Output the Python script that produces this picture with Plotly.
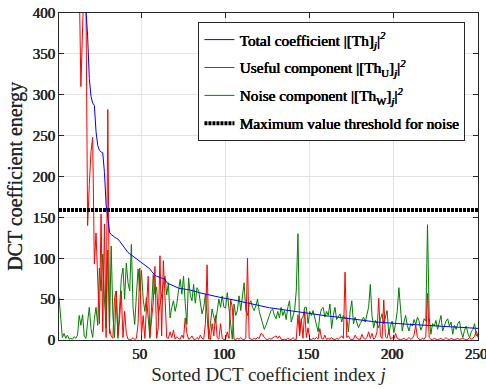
import plotly.graph_objects as go

# Sorted DCT coefficient index j = 1..250
total_energy = [
    2600, 1850, 1400, 1120, 950, 830, 740, 670, 615, 570,
    535, 505, 480, 460, 442, 426, 405, 372, 320, 298,
    290, 287, 255, 238, 232, 230, 229, 205, 165, 150,
    132, 129, 127, 126, 124.5, 123.5, 121, 118, 115, 112,
    109, 107, 105.5, 104, 103, 101, 99.5, 97.5, 96, 94.5,
    93, 91.5, 90, 88.5, 87, 84, 81, 79.5, 78, 77,
    76.5, 76, 75, 74.5, 70.4, 69, 68, 67, 66, 64.5,
    64, 63.5, 63, 62.5, 62.3, 62, 61.8, 61.5, 61, 60.5,
    60.2, 60, 59, 58, 57.5, 57, 56.5, 56, 55.5, 55,
    54.5, 54, 53.2, 52.8, 52.5, 52.2, 52, 51.6, 51.3, 51,
    50.6, 50.2, 49.8, 49.4, 49, 48.6, 48.1, 47.6, 47.1, 46.6,
    46.1, 45.8, 45.3, 44.8, 44.3, 43.7, 43, 42.5, 42, 41.6,
    41.2, 40.8, 40.3, 39.8, 39.6, 39.4, 39.2, 38.9, 38.7, 38.5,
    38.2, 37.8, 37.4, 37, 36.6, 36.2, 35.8, 35.5, 35.1, 34.8,
    34.5, 34.2, 33.9, 33.6, 33.3, 33, 32.7, 32.4, 32.1, 31.9,
    31.7, 31.5, 31.2, 31, 30.8, 30.5, 30.2, 29.9, 29.6, 29.4,
    29.2, 29.1, 29, 28.9, 28.6, 28.3, 28, 27.7, 27.4, 27.1,
    26.8, 26.6, 26.4, 26.1, 25.8, 25.5, 25.2, 24.9, 24.6, 24.3,
    24, 23.7, 23.4, 23.1, 22.8, 22.5, 22.2, 22.1, 22, 21.9,
    21.8, 21.6, 21.4, 21.3, 21.1, 20.9, 20.7, 20.5, 20.3, 20.1,
    20, 19.9, 19.8, 19.7, 19.6, 19.5, 19.4, 19.3, 19.2, 19.1,
    19, 18.9, 18.8, 18.7, 18.6, 18.5, 18.4, 18.3, 18.2, 18.1,
    18, 17.9, 17.8, 17.7, 17.6, 17.5, 17.4, 17.3, 17.2, 17.1,
    17, 16.8, 16.6, 16.4, 16.2, 16, 15.8, 15.6, 15.4, 15.2,
    15.1, 15, 14.9, 14.8, 14.7, 14.6, 14.5, 14.4, 14.3, 14.2,
]

useful_energy = [
    2550, 1780, 1350, 1080, 920, 800, 720, 650, 600, 560,
    525, 490, 440, 310, 430, 450, 420, 140, 190, 230,
    248, 93, 131, 72, 20, 154, 10, 142, 3, 282,
    15, 5, 2, 52, 60, 5, 25, 60, 3, 35,
    8, 1, 0.5, 1, 3, 0.5, 2, 20, 88, 5,
    30, 2, 48, 78, 4, 30, 46, 90, 2, 15,
    103, 5, 97, 52, 3, 2, 10, 3, 12, 1,
    4, 2, 1, 6, 2, 27, 8, 1, 2, 5,
    1, 0.5, 3, 1, 6, 2, 1, 20, 92, 2,
    0.5, 20, 5, 30, 3, 1, 20, 2, 0.5, 1,
    10, 2, 50, 40, 1, 0.5, 2, 1, 3, 1,
    0.5, 2, 100, 2, 1, 0.5, 2, 1, 3, 2,
    8, 7, 3, 1, 0.5, 2, 1, 3, 4, 5,
    2, 5, 1, 0.5, 1, 0.5, 2, 1, 0.5, 3,
    1, 0.5, 31, 5, 26, 2, 36, 3, 15, 1,
    0.5, 2, 1, 3, 1, 14, 2, 1, 6, 0.5,
    2, 1, 3, 1, 0.5, 2, 1, 3, 5, 2,
    83, 3, 5, 1, 0.5, 1, 6, 2, 1, 0.5,
    7, 2, 1, 3, 10, 2, 8, 1, 3, 10,
    51, 5, 2, 49, 4, 2, 11, 1, 3, 1,
    8, 2, 1, 0.5, 1, 2, 0.5, 1, 3, 1,
    2, 6, 18, 3, 1, 0.5, 2, 1, 4, 57,
    3, 1, 0.5, 2, 1, 0.5, 1, 2, 0.5, 1,
    3, 1, 0.5, 2, 1, 0.5, 1, 2, 0.5, 1,
    2, 1, 0.5, 1, 3, 1, 2, 5, 11, 3,
]

noise_energy = [
    52, 22, 3, 8, 2, 6, 1, 2, 1, 4,
    2, 6, 30, 18, 31, 5, 2, 22, 40, 14,
    3, 26, 40, 18, 88, 60, 105, 50, 15, 110,
    8, 115, 30, 3, 60, 2, 40, 75, 88, 50,
    94, 70, 60, 117, 40, 19, 55, 87, 60, 85,
    50, 35, 52, 20, 2, 40, 80, 56, 65, 30,
    44, 55, 68, 78, 55, 70, 27, 40, 48, 35,
    44, 60, 74, 56, 78, 45, 19, 76, 55, 48,
    68, 45, 64, 60, 45, 32, 40, 56, 30, 1,
    20, 38, 28, 21, 35, 50, 40, 54, 40, 39,
    58, 36, 15, 1, 44, 30, 36, 54, 36, 50,
    70, 36, 30, 44, 48, 40, 36, 42, 50, 35,
    28, 20, 13, 18, 23, 30, 36, 38, 30, 26,
    35, 27, 40, 30, 36, 25, 40, 48, 22, 30,
    36, 60, 130, 8, 25, 28, 40, 40, 20, 35,
    30, 36, 27, 22, 10, 30, 38, 40, 28, 35,
    30, 44, 14, 30, 40, 25, 28, 32, 22, 30,
    26, 28, 10, 35, 48, 20, 28, 22, 15, 20,
    24, 28, 22, 30, 40, 68, 30, 15, 24, 20,
    15, 25, 32, 20, 28, 36, 7, 18, 23, 9,
    20, 35, 64, 40, 11, 22, 30, 18, 11, 20,
    17, 25, 19, 28, 23, 12, 17, 26, 23, 141,
    28, 7, 20, 17, 24, 13, 20, 30, 11, 18,
    23, 26, 17, 22, 7, 18, 13, 20, 23, 10,
    3, 12, 17, 8, 3, 10, 13, 20, 5, 8,
]

noise_threshold = 159
index_j = list(range(1, len(total_energy) + 1))
x_ticks = [50, 100, 150, 200, 250]
y_ticks = [0, 50, 100, 150, 200, 250, 300, 350, 400]

FONT = "Liberation Serif"
INK = "#262626"
FAUX_BOLD = "0.6px 0 0 #262626, 0.3px 0 0 #262626"

fig = go.Figure()
fig.add_trace(go.Scatter(
    x=index_j, y=noise_energy, mode="lines",
    line=dict(color="#008000", width=1),
    name="Noise component |[Th<sub>W</sub>]<sub><i>j</i></sub>|<sup><i>2</i></sup>",
    legendrank=3, legendgroup="g3"))
fig.add_trace(go.Scatter(
    x=index_j, y=useful_energy, mode="lines",
    line=dict(color="#ff0000", width=1),
    name="Useful component |[Th<sub>U</sub>]<sub><i>j</i></sub>|<sup><i>2</i></sup>",
    legendrank=2, legendgroup="g2"))
fig.add_trace(go.Scatter(
    x=index_j, y=total_energy, mode="lines",
    line=dict(color="#0000ff", width=1),
    name="Total coefficient |[Th]<sub><i>j</i></sub>|<sup><i>2</i></sup>",
    legendrank=1, legendgroup="g1"))
fig.add_trace(go.Scatter(
    x=[index_j[0], index_j[-1]], y=[noise_threshold, noise_threshold], mode="lines",
    line=dict(color="black", width=4, dash="3px,1px"),
    name="Maximum value threshold for noise",
    legendrank=4, legendgroup="g4"))

axis_common = dict(
    showline=True, linecolor=INK, linewidth=1, mirror="ticks",
    ticks="inside", ticklen=5, tickcolor=INK,
    showgrid=True, gridcolor="#e3e3e3", gridwidth=1,
    zeroline=False, ticklabeloverflow="allow", automargin=False,
    tickfont=dict(family=FONT, size=15, color=INK, shadow=FAUX_BOLD),
)

fig.update_layout(
    width=486, height=389,
    margin=dict(l=59, r=8, t=13, b=49, autoexpand=False),
    paper_bgcolor="white", plot_bgcolor="white",
    font=dict(family=FONT, color=INK),
    showlegend=True,
    legend=dict(
        x=0.970, y=0.972, xanchor="right", yanchor="top",
        bgcolor="white", bordercolor=INK, borderwidth=1,
        font=dict(family=FONT, size=15.3, color="black", shadow="0.6px 0 0 black, 0.3px 0 0 black"),
        tracegroupgap=5,
    ),
    xaxis=dict(
        range=[0.99, 250.01], tickvals=x_ticks, ticklabelshift=-2,
        title=dict(text="Sorted DCT coefficient index <i>j</i>",
                   font=dict(family=FONT, size=19, color=INK), standoff=6),
        **axis_common,
    ),
    yaxis=dict(
        range=[0, 400], tickvals=y_ticks,
        title=dict(text="DCT coefficient energy",
                   font=dict(family=FONT, size=20, color=INK, shadow="0.3px 0 0 #262626"),
                   standoff=4),
        **axis_common,
    ),
)

fig.write_html("out.html")
